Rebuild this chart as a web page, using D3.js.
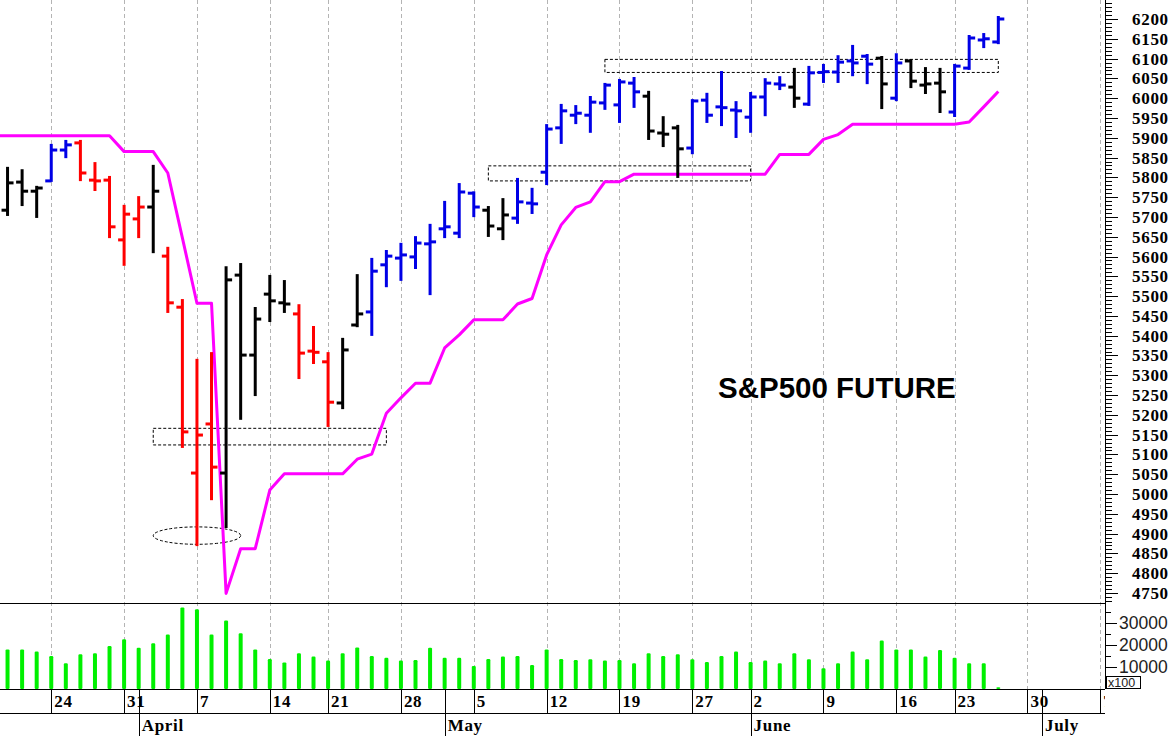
<!DOCTYPE html>
<html>
<head>
<meta charset="utf-8">
<script src="https://cdnjs.cloudflare.com/ajax/libs/d3/7.8.5/d3.min.js"></script>
<style>
  body { margin: 0; background: #fff; }
  svg { display: block; }
</style>
</head>
<body>
<svg id="canvas" width="1176" height="736"></svg>
<script>
// daily bars, first one (Mar 18) sits just off the left edge
var firstDate = '2025-03-18';
var barColor = ['k',
  'k','k','k','b','b','r','r','r','r','r',
  'k','r','r','r','r','k','k','k','k','k',
  'r','r','r','k','k','b','b','b','b','b',
  'b','b','b','k','k','b','b','b','b','b',
  'b','b','b','b','k','k','k','b','b','b',
  'b','b','b','b','k','b','b','b','b','b',
  'k','b','k','k','k','b','b','b','b'];
var openP = [5760,
  5717,5788,5765,5791,5869,5887,5793,5793,5642,5695,
  5725,5601,5472,5053,5177,5053,5553,5351,5505,5483,
  5455,5361,5334,5230,5427,5460,5579,5596,5599,5632,
  5670,5659,5760,5717,5670,5697,5735,5813,5925,5957,
  5957,5988,5983,6038,6005,5912,5925,5874,5995,5978,
  5970,5952,6003,6036,6028,5985,6065,6066,6094,6106,
  6101,6000,6094,6033,6038,5965,6076,6147,6142];
var highP = [5835,
  5824,5818,5776,5882,5892,5892,5836,5801,5728,5750,
  5829,5622,5490,5339,5356,5573,5581,5470,5551,5538,
  5477,5422,5356,5392,5553,5594,5614,5632,5649,5680,
  5738,5783,5762,5725,5745,5796,5771,5932,5983,5980,
  6003,6036,6046,6051,6016,5952,5930,5995,6011,6066,
  5990,6013,6048,6053,6074,6079,6084,6106,6132,6109,
  6104,6111,6096,6076,6074,6084,6157,6162,6205];
var lowP = [5700,
  5705,5730,5700,5791,5851,5793,5768,5649,5579,5649,
  5611,5460,5119,4871,4987,4917,5190,5250,5437,5460,
  5293,5331,5172,5217,5424,5402,5525,5541,5571,5505,
  5649,5649,5702,5652,5644,5685,5710,5783,5887,5937,
  5915,5973,5940,5978,5897,5879,5801,5861,5940,5932,
  5902,5915,5957,6023,5978,5983,6041,6041,6058,6038,
  5975,5995,6028,6013,5965,5955,6074,6129,6139];
var closeP = [5720,
  5786,5765,5773,5869,5882,5811,5791,5675,5707,5725,
  5765,5483,5157,5149,5068,5541,5351,5442,5488,5480,
  5356,5358,5232,5364,5455,5563,5601,5604,5634,5637,
  5675,5763,5725,5677,5705,5738,5733,5922,5968,5962,
  5990,6033,6041,6016,5917,5909,5872,5993,5957,5976,
  5968,6003,6038,6033,6000,6064,6067,6091,6089,6086,
  6036,6089,6043,6036,6016,6081,6152,6150,6200];
var volume = [17000,
  18000,18000,17000,15000,11700,15800,16200,19500,22600,18800,
  20800,24800,37100,36200,24800,31100,25300,18000,13600,12100,
  16200,14800,12900,16200,18900,15000,14200,12900,13200,18800,
  14200,14200,10500,13600,14800,15000,10900,18000,13600,13200,
  13500,12900,13200,11700,16200,15000,15800,13500,12300,15000,
  17000,12300,12900,11700,16200,13500,9400,11700,17000,13500,
  22000,18000,18000,14800,17700,14200,11700,11700,800];
// trailing stop (magenta)
var stopP = [5905,
  5905,5905,5905,5905,5905,5905,5905,5905,5865,5865,
  5865,5811,5647,5482,5482,4749,4862,4862,5010,5051,
  5051,5051,5051,5051,5088,5101,5204,5243,5280,5280,
  5369,5402,5440,5440,5440,5480,5494,5604,5680,5724,
  5738,5789,5789,5808,5808,5808,5808,5808,5808,5808,
  5808,5808,5808,5858,5858,5858,5896,5908,5934,5934,
  5934,5934,5934,5934,5934,5934,5940,5978,6017];

// dashed boxes and the ellipse drawn on the chart
var boxFrom = ['2025-04-02', '2025-05-06', '2025-05-16'];
var boxTo = ['2025-04-25', '2025-06-02', '2025-06-26'];
var boxLow = [5124, 5791, 6065];
var boxHigh = [5166, 5829, 6098];
var ringDate = '2025-04-07', ringPrice = 4895, ringDays = 3, ringPoints = 22;

var priceTicks = [4750, 4800, 4850, 4900, 4950, 5000, 5050, 5100, 5150, 5200, 5250, 5300, 5350, 5400,
  5450, 5500, 5550, 5600, 5650, 5700, 5750, 5800, 5850, 5900, 5950, 6000, 6050, 6100, 6150, 6200];
var volTicks = [10000, 20000, 30000];
var title = 'S&P500 FUTURE';
var holidays = ['2025-04-18', '2025-05-26', '2025-06-19'];
var monthNames = ['January', 'February', 'March', 'April', 'May', 'June', 'July'];

var colors = { k: '#000000', b: '#0000e6', r: '#ff0000' };

var svg = d3.select('#canvas');
var axisX = 1105, priceBottom = 603, volBottom = 689, dateBottom = 713;

var parseDay = d3.utcParse('%Y-%m-%d');
var fmtDay = d3.utcFormat('%Y-%m-%d');

// trading calendar: weekdays without exchange holidays
var axisDays = d3.utcDay.range(parseDay('2025-03-17'), parseDay('2025-07-08'))
  .filter(function (d) {
    var w = d.getUTCDay();
    return w > 0 && w < 6 && holidays.indexOf(fmtDay(d)) < 0;
  });
var dayIndex = {};
axisDays.forEach(function (d, i) { dayIndex[fmtDay(d)] = i; });
var first = dayIndex[firstDate];

var x = d3.scaleLinear().domain([0, axisDays.length - 1]).range([-21.6, 1100.3]);
var y = d3.scaleLinear().domain([4750, 6200]).range([593, 19]);
var yv = d3.scaleLinear().domain([0, 30000]).range([volBottom, 623]);

var bars = openP.map(function (o, i) {
  return { i: first + i, o: o, h: highP[i], l: lowP[i], c: closeP[i], v: volume[i], s: stopP[i], col: colors[barColor[i]] };
});

var defs = svg.append('defs');
defs.append('clipPath').attr('id', 'clipPrice').append('rect')
  .attr('x', 0).attr('y', 0).attr('width', axisX).attr('height', priceBottom);
defs.append('clipPath').attr('id', 'clipVol').append('rect')
  .attr('x', 0).attr('y', priceBottom).attr('width', axisX).attr('height', volBottom - priceBottom);
defs.append('clipPath').attr('id', 'clipDate').append('rect')
  .attr('x', 0).attr('y', volBottom).attr('width', axisX).attr('height', 736 - volBottom);

svg.append('rect').attr('width', 1176).attr('height', 736).attr('fill', '#fff');

var weekStarts = axisDays.map(function (d, i) { return i; }).filter(function (i) {
  return i === 0 || +d3.utcMonday.floor(axisDays[i]) !== +d3.utcMonday.floor(axisDays[i - 1]);
});
var monthStarts = axisDays.map(function (d, i) { return i; }).filter(function (i) {
  return i > 0 && axisDays[i].getUTCMonth() !== axisDays[i - 1].getUTCMonth();
});

// weekly grid
svg.append('g').selectAll('line').data(weekStarts).join('line')
  .attr('x1', function (i) { return Math.round(x(i)) + 0.5; })
  .attr('x2', function (i) { return Math.round(x(i)) + 0.5; })
  .attr('y1', 0).attr('y2', volBottom)
  .attr('stroke', '#b4b4b4').attr('stroke-width', 1).attr('stroke-dasharray', '4,3');

// annotations
var price = svg.append('g').attr('clip-path', 'url(#clipPrice)');
price.append('g').selectAll('rect').data(boxFrom).join('rect')
  .attr('x', function (d) { return x(dayIndex[d]); })
  .attr('width', function (d, k) { return x(dayIndex[boxTo[k]]) - x(dayIndex[d]); })
  .attr('y', function (d, k) { return y(boxHigh[k]); })
  .attr('height', function (d, k) { return y(boxLow[k]) - y(boxHigh[k]); })
  .attr('fill', 'none').attr('stroke', '#000').attr('stroke-width', 1).attr('stroke-dasharray', '3,2');
price.append('ellipse')
  .attr('cx', x(dayIndex[ringDate])).attr('cy', y(ringPrice))
  .attr('rx', x(ringDays) - x(0)).attr('ry', y(4750) - y(4750 + ringPoints))
  .attr('fill', 'none').attr('stroke', '#000').attr('stroke-width', 1).attr('stroke-dasharray', '3,2');

// trailing stop
price.append('path').datum(bars)
  .attr('d', d3.line().x(function (d) { return x(d.i); }).y(function (d) { return y(d.s); }))
  .attr('fill', 'none').attr('stroke', '#ff00ff').attr('stroke-width', 3).attr('stroke-linejoin', 'round');

// OHLC bars
var bar = price.append('g').selectAll('g').data(bars).join('g')
  .attr('stroke', function (d) { return d.col; }).attr('stroke-width', 3);
bar.append('line')
  .attr('x1', function (d) { return x(d.i); }).attr('x2', function (d) { return x(d.i); })
  .attr('y1', function (d) { return y(d.h) - 1; }).attr('y2', function (d) { return y(d.l) + 1; });
bar.append('line')
  .attr('x1', function (d) { return x(d.i) - 6; }).attr('x2', function (d) { return x(d.i); })
  .attr('y1', function (d) { return y(d.o); }).attr('y2', function (d) { return y(d.o); });
bar.append('line')
  .attr('x1', function (d) { return x(d.i); }).attr('x2', function (d) { return x(d.i) + 6; })
  .attr('y1', function (d) { return y(d.c); }).attr('y2', function (d) { return y(d.c); });

svg.append('text').text(title)
  .attr('x', 718).attr('y', 398)
  .attr('font-family', '"Liberation Sans", Arial, sans-serif').attr('font-weight', 'bold')
  .attr('font-size', 29.5).attr('fill', '#000');

// volume
svg.append('g').attr('clip-path', 'url(#clipVol)').selectAll('rect').data(bars).join('rect')
  .attr('x', function (d) { return x(d.i) - 2; }).attr('width', 4)
  .attr('y', function (d) { return yv(d.v); })
  .attr('height', function (d) { return volBottom - yv(d.v); })
  .attr('rx', 1.2).attr('fill', '#00f000');

// frame lines
var frame = svg.append('g').attr('stroke', '#000').attr('stroke-width', 1).attr('shape-rendering', 'crispEdges');
[priceBottom, volBottom, dateBottom].forEach(function (yy) {
  frame.append('line').attr('x1', 0).attr('x2', axisX).attr('y1', yy + 0.5).attr('y2', yy + 0.5);
});
frame.append('line').attr('x1', axisX + 0.5).attr('x2', axisX + 0.5).attr('y1', 0).attr('y2', volBottom);

// price axis ticks
var minor = d3.range(4730, 6250, 10);
frame.append('g').selectAll('line').data(minor).join('line')
  .attr('x1', axisX).attr('x2', function (p) { return p % 50 === 0 ? axisX + 13 : axisX + 7; })
  .attr('y1', function (p) { return Math.round(y(p)) + 0.5; })
  .attr('y2', function (p) { return Math.round(y(p)) + 0.5; });
svg.append('g').selectAll('text').data(priceTicks).join('text')
  .text(function (p) { return p; })
  .attr('x', 1132).attr('y', function (p) { return y(p) + 6; })
  .attr('font-family', '"Liberation Serif", "Times New Roman", serif').attr('font-weight', 'bold')
  .attr('font-size', 17).attr('letter-spacing', 0.7).attr('fill', '#000');

// volume axis
frame.append('g').selectAll('line').data(d3.range(5000, 40000, 5000)).join('line')
  .attr('x1', axisX).attr('x2', function (v) { return v % 10000 === 0 ? axisX + 12 : axisX + 6; })
  .attr('y1', function (v) { return Math.round(yv(v)) + 0.5; })
  .attr('y2', function (v) { return Math.round(yv(v)) + 0.5; });
svg.append('g').selectAll('text').data(volTicks).join('text')
  .text(function (v) { return v; })
  .attr('x', 1119).attr('y', function (v) { return yv(v) + 6; })
  .attr('font-family', '"Liberation Sans", Arial, sans-serif')
  .attr('font-size', 17.5).attr('fill', '#222');
svg.append('rect').attr('x', 1106.5).attr('y', 676.5).attr('width', 34).attr('height', 12)
  .attr('fill', '#fff').attr('stroke', '#000').attr('stroke-width', 1);
svg.append('text').text('x100').attr('x', 1108).attr('y', 687)
  .attr('font-family', '"Liberation Sans", Arial, sans-serif').attr('font-size', 12.5).attr('fill', '#222');

// date row
var dates = svg.append('g').attr('clip-path', 'url(#clipDate)');
dates.append('g').selectAll('line').data(weekStarts).join('line')
  .attr('x1', function (i) { return Math.round(x(i)) + 0.5; })
  .attr('x2', function (i) { return Math.round(x(i)) + 0.5; })
  .attr('y1', volBottom).attr('y2', dateBottom)
  .attr('stroke', '#000').attr('shape-rendering', 'crispEdges');
dates.append('g').selectAll('line').data(monthStarts).join('line')
  .attr('x1', function (i) { return Math.round(x(i)) + 0.5; })
  .attr('x2', function (i) { return Math.round(x(i)) + 0.5; })
  .attr('y1', volBottom).attr('y2', 736)
  .attr('stroke', '#000').attr('shape-rendering', 'crispEdges');
dates.append('g').selectAll('text').data(weekStarts).join('text')
  .text(function (i) { return axisDays[i].getUTCDate(); })
  .attr('x', function (i) { return x(i) + 3; }).attr('y', 707)
  .attr('font-family', '"Liberation Serif", "Times New Roman", serif').attr('font-weight', 'bold')
  .attr('font-size', 17).attr('letter-spacing', 0.7).attr('fill', '#000');
dates.append('g').selectAll('text').data(monthStarts).join('text')
  .text(function (i) { return monthNames[axisDays[i].getUTCMonth()]; })
  .attr('x', function (i) { return x(i) + 3; }).attr('y', 731)
  .attr('font-family', '"Liberation Serif", "Times New Roman", serif').attr('font-weight', 'bold')
  .attr('font-size', 17).attr('letter-spacing', 0.7).attr('fill', '#000');
</script>
</body>
</html>
